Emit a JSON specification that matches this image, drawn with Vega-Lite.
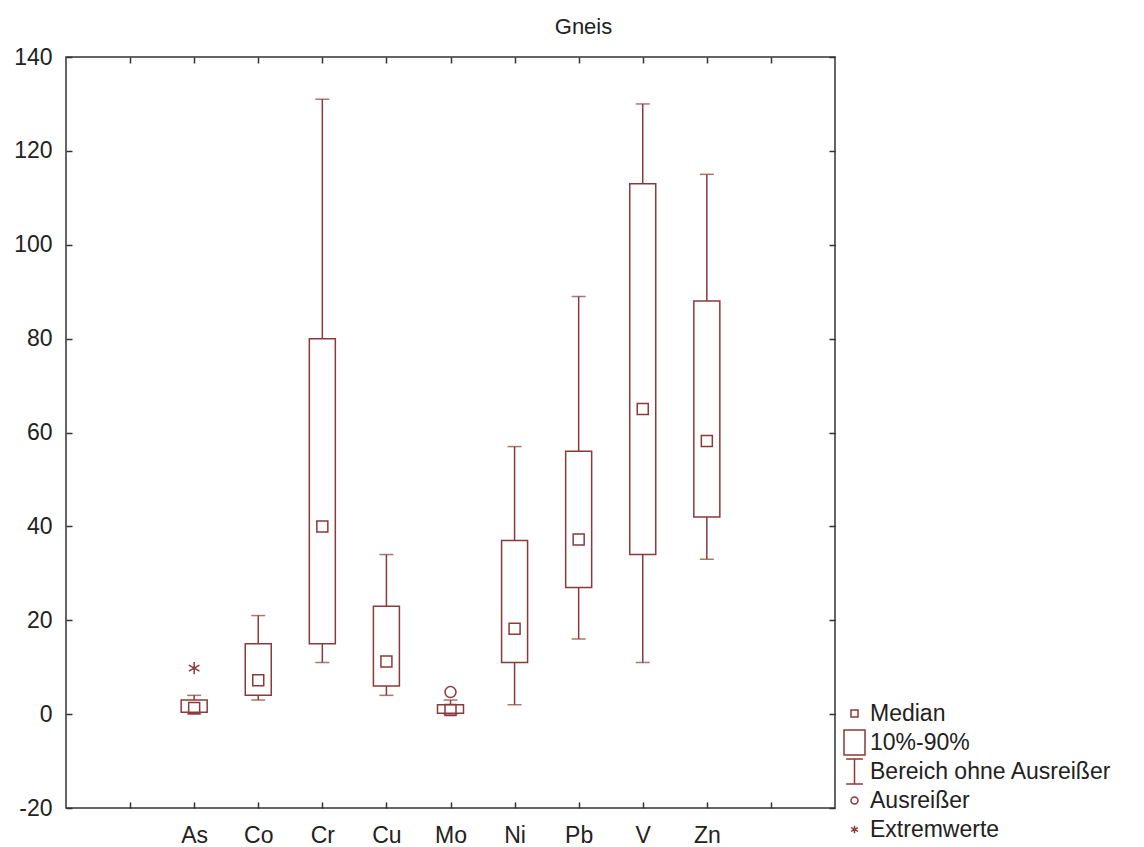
{
  "$schema": "https://vega.github.io/schema/vega-lite/v6.json",
  "width": 769,
  "height": 751,
  "autosize": {"type": "none"},
  "padding": {"left": 66, "top": 57, "right": 309, "bottom": 39},
  "background": "white",
  "title": {"text": "Gneis", "anchor": "middle", "frame": "group", "dx": 133, "offset": 7, "fontSize": 22, "fontWeight": "normal", "font": "Liberation Sans", "color": "#222"},
  "config": {
    "view": {"stroke": "#333", "strokeWidth": 1.5},
    "axis": {"domain": false, "grid": false, "tickColor": "#333", "tickWidth": 1.5, "tickSize": -6, "labelFont": "Liberation Sans", "labelFontSize": 23, "labelColor": "#222", "title": null},
    "legend": {"labelFont": "Liberation Sans", "labelFontSize": 23, "labelColor": "#222", "labelLimit": 400}
  },
  "datasets": {
    "stats": [
      {"el": "As", "lo": 0, "q1": 0.4, "q3": 3, "hi": 4},
      {"el": "Co", "lo": 3, "q1": 4, "q3": 15, "hi": 21},
      {"el": "Cr", "lo": 11, "q1": 15, "q3": 80, "hi": 131},
      {"el": "Cu", "lo": 4, "q1": 6, "q3": 23, "hi": 34},
      {"el": "Mo", "lo": 0, "q1": 0.2, "q3": 2, "hi": 3},
      {"el": "Ni", "lo": 2, "q1": 11, "q3": 37, "hi": 57},
      {"el": "Pb", "lo": 16, "q1": 27, "q3": 56, "hi": 89},
      {"el": "V", "lo": 11, "q1": 34, "q3": 113, "hi": 130},
      {"el": "Zn", "lo": 33, "q1": 42, "q3": 88, "hi": 115}
    ],
    "points": [
      {"el": "As", "value": 1.3, "kind": "Median"},
      {"el": "Co", "value": 7.2, "kind": "Median"},
      {"el": "Cr", "value": 40, "kind": "Median"},
      {"el": "Cu", "value": 11.2, "kind": "Median"},
      {"el": "Mo", "value": 0.9, "kind": "Median"},
      {"el": "Ni", "value": 18.2, "kind": "Median"},
      {"el": "Pb", "value": 37.2, "kind": "Median"},
      {"el": "V", "value": 65, "kind": "Median"},
      {"el": "Zn", "value": 58.2, "kind": "Median"},
      {"el": "Mo", "value": 4.7, "kind": "Ausreißer"},
      {"el": "As", "value": 9.8, "kind": "Extremwerte"}
    ]
  },
  "resolve": {"axis": {"x": "independent", "y": "independent"}},
  "layer": [
    {
      "data": {"name": "stats"},
      "mark": {"type": "rule", "color": "#8b3a3a", "strokeWidth": 1.5},
      "encoding": {
        "x": {"field": "el", "type": "nominal", "sort": null,
              "scale": {"type": "point", "domain": ["L", "As", "Co", "Cr", "Cu", "Mo", "Ni", "Pb", "V", "Zn", "R"], "padding": 1},
              "axis": {"orient": "bottom", "labelAngle": 0, "labelPadding": 22, "labelExpr": "datum.value == 'L' || datum.value == 'R' ? '' : datum.value"}},
        "y": {"field": "lo", "type": "quantitative",
              "scale": {"domain": [-20, 140], "nice": false, "zero": false},
              "axis": {"orient": "left", "values": [-20, 0, 20, 40, 60, 80, 100, 120, 140], "labelPadding": 20, "labelExpr": "datum.value < 0 ? '-' + abs(datum.value) : '' + datum.value"}},
        "y2": {"field": "hi"}
      }
    },
    {
      "data": {"name": "stats"},
      "mark": {"type": "tick", "color": "#8b3a3a", "size": 14, "thickness": 1.5},
      "encoding": {
        "x": {"field": "el", "type": "nominal", "sort": null,
              "axis": {"orient": "top", "labels": false}},
        "y": {"field": "lo", "type": "quantitative",
              "axis": {"orient": "right", "labels": false, "values": [-20, 0, 20, 40, 60, 80, 100, 120, 140]}}
      }
    },
    {
      "data": {"name": "stats"},
      "mark": {"type": "tick", "color": "#8b3a3a", "size": 14, "thickness": 1.5},
      "encoding": {
        "x": {"field": "el", "type": "nominal", "sort": null, "axis": null},
        "y": {"field": "hi", "type": "quantitative", "axis": null}
      }
    },
    {
      "data": {"name": "stats"},
      "mark": {"type": "bar", "width": 26, "fill": "white", "stroke": "#8b3a3a", "strokeWidth": 1.5},
      "encoding": {
        "x": {"field": "el", "type": "nominal", "sort": null, "axis": null},
        "y": {"field": "q1", "type": "quantitative", "axis": null},
        "y2": {"field": "q3"}
      }
    },
    {
      "data": {"name": "points"},
      "mark": {"type": "point", "filled": false, "color": "#8b3a3a", "strokeWidth": 1.5, "size": 484, "opacity": 1},
      "encoding": {
        "x": {"field": "el", "type": "nominal", "sort": null, "axis": null},
        "y": {"field": "value", "type": "quantitative", "axis": null},
        "shape": {"field": "kind", "type": "nominal",
                  "scale": {"domain": ["Median", "10%-90%", "Bereich ohne Ausreißer", "Ausreißer", "Extremwerte"],
                            "range": ["M-1.5,-1.8M1.5,1.8M-0.5,-0.5H0.5V0.5H-0.5Z",
                                      "M-1.5,-1.8H1.5V1.8H-1.5Z",
                                      "M-1.5,-1.8M1.5,1.8M-1.2,-1.8H1.2M0,-1.8V1.8M-1.2,1.8H1.2",
                                      "M-1.5,-1.8M1.5,1.8M0.5,0A0.5,0.5,0,1,1,-0.5,0A0.5,0.5,0,1,1,0.5,0Z",
                                      "M-1.5,-1.8M1.5,1.8M0,-0.55V0.55M-0.48,-0.28L0.48,0.28M-0.48,0.28L0.48,-0.28"]},
                  "legend": {"title": null, "orient": "none", "legendX": 777, "legendY": 645, "symbolSize": 196, "symbolStrokeColor": "#8b3a3a", "symbolFillColor": "transparent", "symbolStrokeWidth": 1.5, "labelOffset": 4, "rowPadding": -4}}
      }
    }
  ]
}
